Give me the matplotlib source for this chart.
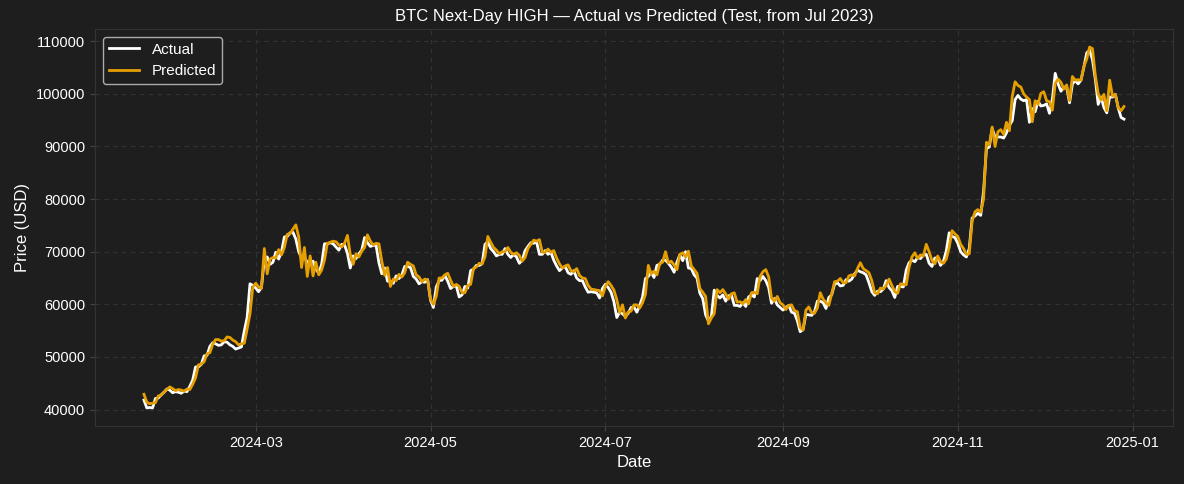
import numpy as np
import pandas as pd
import matplotlib
matplotlib.use("Agg")
import matplotlib.pyplot as plt
import matplotlib.dates as mdates

# Daily next-day HIGH, thousands of USD, 2024-01-22 .. 2024-12-29
actual_jan = [41.8, 40.3, 40.4, 40.3, 42.1, 42.2, 42.8, 43.3, 43.9, 43.7]
actual_feb = [43.2, 43.4, 43.3, 43.1, 43.5, 43.4, 44.4, 45.6, 48.1, 48.1, 48.6, 50.2, 50.3, 52.0, 52.7,
              52.5, 52.2, 52.3, 52.9, 52.8, 52.3, 52.0, 51.5, 51.7, 51.9, 54.9, 57.5, 63.9, 63.6]
actual_mar = [63.1, 62.4, 63.2, 68.5, 69.0, 67.6, 68.0, 69.9, 68.6, 70.0, 72.8, 72.9, 73.6, 73.7, 72.4,
              70.0, 68.8, 68.9, 68.0, 68.0, 68.2, 66.7, 65.9, 67.6, 71.5, 71.5, 71.7, 71.5, 70.9, 70.3, 71.4]
actual_apr = [71.3, 69.7, 66.9, 69.2, 68.7, 69.6, 70.3, 72.7, 71.7, 71.0, 71.2, 71.2, 67.9, 65.8, 66.9,
              64.4, 64.4, 64.0, 65.4, 64.9, 65.6, 67.2, 67.2, 67.0, 65.3, 64.8, 63.9, 64.3, 64.2, 64.7]
actual_may = [60.8, 59.4, 63.3, 64.5, 64.6, 65.5, 64.4, 63.0, 63.4, 63.5, 61.4, 61.8, 63.4, 63.1, 66.4,
              66.7, 67.4, 67.4, 67.7, 71.4, 71.9, 70.6, 70.0, 69.2, 69.5, 69.5, 70.6, 69.5, 68.9, 69.5, 69.0]
actual_jun = [67.8, 68.4, 70.2, 71.0, 71.7, 71.6, 71.9, 69.5, 69.5, 70.2, 69.5, 69.9, 68.4, 67.3, 66.4,
              66.9, 67.2, 66.0, 65.7, 66.4, 65.0, 64.5, 64.5, 63.3, 62.3, 62.4, 62.3, 62.2, 61.2, 63.0]
actual_jul = [63.8, 63.2, 62.3, 60.5, 57.5, 58.5, 58.2, 57.7, 58.3, 59.4, 59.5, 58.5, 59.8, 61.4, 64.9,
              65.3, 66.1, 65.1, 67.4, 67.6, 68.4, 68.4, 67.8, 67.1, 66.1, 68.0, 69.4, 68.3, 70.0, 66.9, 66.8]
actual_aug = [65.6, 65.0, 62.1, 61.1, 58.0, 56.8, 57.7, 62.7, 61.7, 61.2, 61.8, 60.6, 61.6, 61.8, 59.8,
              59.8, 59.6, 60.3, 59.6, 61.4, 61.8, 61.4, 64.9, 64.5, 65.3, 64.5, 63.2, 60.2, 61.1, 59.9, 59.4]
actual_sep = [58.9, 59.4, 59.8, 58.5, 58.3, 56.9, 54.8, 55.2, 58.1, 58.0, 57.9, 58.6, 60.6, 60.6, 60.3,
              59.2, 61.3, 61.8, 63.8, 64.1, 63.5, 63.6, 64.7, 64.4, 64.8, 65.8, 66.5, 66.2, 66.0, 65.6]
actual_oct = [64.1, 62.4, 61.7, 62.5, 62.4, 62.9, 64.5, 63.2, 62.6, 61.3, 63.4, 63.4, 63.3, 66.5, 67.9,
              68.4, 68.1, 68.9, 68.7, 69.4, 69.5, 67.8, 67.2, 68.8, 68.8, 67.4, 68.2, 70.2, 73.6, 72.9, 72.7]
actual_nov = [71.6, 70.0, 69.4, 69.0, 70.6, 76.4, 76.8, 77.3, 76.9, 81.5, 89.6, 89.9, 93.4, 91.8, 91.8,
              91.8, 91.6, 92.6, 94.0, 94.9, 98.9, 99.7, 99.0, 98.7, 98.9, 94.6, 97.2, 96.6, 98.6, 97.7]
actual_dec = [97.8, 98.1, 96.3, 99.0, 103.9, 101.9, 100.5, 101.3, 101.2, 98.3, 101.9, 102.5, 101.9, 102.6, 105.1,
              107.8, 108.3, 106.5, 102.8, 98.0, 99.4, 97.4, 96.4, 99.4, 99.4, 99.9, 97.3, 95.5, 95.2]

pred_jan = [42.9, 41.4, 41.1, 41.2, 41.3, 42.6, 42.7, 43.3, 43.8, 44.3]
pred_feb = [44.0, 43.6, 43.8, 43.7, 43.5, 43.9, 43.8, 44.8, 46.0, 48.5, 48.6, 49.1, 50.6, 50.8, 52.4,
            53.3, 53.3, 53.0, 53.1, 53.8, 53.7, 53.2, 52.9, 52.3, 52.5, 52.6, 55.3, 58.2, 63.3]
pred_mar = [64.0, 63.3, 63.0, 70.6, 65.8, 68.6, 68.9, 68.8, 70.4, 69.4, 70.8, 73.3, 73.4, 74.3, 75.1,
            72.8, 67.0, 70.8, 65.3, 69.2, 65.4, 68.0, 65.6, 66.5, 68.4, 71.6, 71.8, 72.0, 71.9, 71.3, 70.9]
pred_apr = [71.6, 73.1, 69.5, 67.6, 69.6, 69.0, 70.1, 70.8, 73.2, 72.0, 71.3, 71.6, 71.5, 68.2, 65.5,
            67.0, 63.4, 64.8, 64.5, 65.7, 65.2, 66.0, 68.0, 67.6, 67.3, 65.6, 65.2, 64.3, 64.8, 64.6]
pred_may = [61.0, 60.0, 61.5, 65.0, 65.0, 65.6, 65.9, 64.6, 63.4, 63.8, 63.4, 62.2, 62.2, 63.6, 63.8,
            66.8, 67.1, 67.8, 67.7, 69.0, 72.9, 71.8, 70.8, 70.3, 69.6, 70.0, 70.0, 70.8, 69.9, 69.5, 69.8]
pred_jun = [69.3, 68.2, 68.9, 70.6, 71.4, 72.2, 72.0, 72.3, 69.9, 69.9, 70.5, 69.9, 70.2, 68.8, 67.7,
            66.9, 67.3, 67.5, 66.4, 66.2, 66.8, 65.5, 65.0, 64.9, 63.6, 62.9, 62.8, 62.7, 62.6, 61.6]
pred_jul = [63.4, 64.3, 63.6, 62.7, 60.9, 58.4, 59.9, 57.4, 58.6, 58.7, 59.9, 59.9, 59.3, 60.3, 61.9,
            67.4, 65.8, 66.3, 65.6, 67.8, 68.0, 70.0, 67.9, 68.2, 67.5, 66.6, 69.5, 69.8, 69.0, 70.1, 67.3]
pred_aug = [66.6, 65.9, 63.0, 62.3, 61.5, 56.3, 57.4, 58.2, 62.8, 62.2, 62.8, 62.0, 61.0, 62.0, 62.2,
            60.4, 60.5, 60.1, 60.9, 60.1, 62.2, 62.3, 62.0, 65.3, 66.2, 66.6, 65.2, 61.2, 60.6, 61.5, 60.3]
pred_sep = [59.9, 59.0, 59.8, 59.9, 58.8, 58.6, 55.6, 55.1, 58.9, 59.5, 58.4, 58.3, 59.3, 62.2, 61.0,
            60.3, 59.8, 62.0, 64.3, 64.4, 64.9, 64.1, 64.1, 65.4, 65.6, 65.4, 66.8, 67.9, 66.8, 66.4]
pred_oct = [66.0, 64.5, 62.2, 62.0, 63.1, 62.9, 63.6, 64.8, 63.6, 62.4, 62.1, 63.9, 63.8, 63.7, 67.0,
            69.0, 69.8, 68.7, 69.4, 69.2, 71.4, 70.0, 68.3, 67.7, 69.2, 68.1, 67.8, 68.6, 70.8, 74.0, 73.4]
pred_nov = [72.9, 71.4, 70.6, 69.5, 69.6, 75.8, 77.6, 78.0, 77.5, 80.0, 90.8, 90.3, 93.7, 90.0, 92.8,
            93.2, 92.3, 94.6, 93.0, 99.5, 102.3, 101.6, 101.3, 100.0, 99.4, 98.9, 94.7, 98.7, 98.0, 100.1]
pred_dec = [100.4, 98.7, 98.5, 96.9, 102.0, 102.8, 102.2, 100.9, 101.7, 98.7, 103.3, 102.6, 102.7, 102.6, 105.2,
            106.6, 108.9, 108.6, 103.5, 100.0, 98.8, 99.9, 96.8, 102.6, 99.6, 99.9, 97.4, 96.8, 97.6]

actual_k = (actual_jan + actual_feb + actual_mar + actual_apr + actual_may + actual_jun
            + actual_jul + actual_aug + actual_sep + actual_oct + actual_nov + actual_dec)
pred_k = (pred_jan + pred_feb + pred_mar + pred_apr + pred_may + pred_jun
          + pred_jul + pred_aug + pred_sep + pred_oct + pred_nov + pred_dec)

dates = pd.date_range("2024-01-22", "2024-12-29", freq="D")
actual = np.array(actual_k) * 1000
predicted = np.array(pred_k) * 1000

bg = "#1e1e1e"
plt.rcParams["font.family"] = ["Liberation Sans", "DejaVu Sans"]
plt.rcParams["text.color"] = "white"
plt.rcParams["axes.labelcolor"] = "white"
plt.rcParams["xtick.color"] = "white"
plt.rcParams["ytick.color"] = "white"

fig, ax = plt.subplots(figsize=(11.84, 4.84), dpi=100)
fig.patch.set_facecolor(bg)
ax.set_facecolor(bg)

ax.plot(dates, actual, color="white", linewidth=2, label="Actual")
ax.plot(dates, predicted, color="#E69F00", linewidth=2, label="Predicted")

ax.set_title("BTC Next-Day HIGH \u2014 Actual vs Predicted (Test, from Jul 2023)", fontsize=12)
ax.set_xlabel("Date", fontsize=12)
ax.set_ylabel("Price (USD)", fontsize=12)
ax.xaxis.set_major_locator(mdates.MonthLocator(bymonth=[1, 3, 5, 7, 9, 11]))
ax.xaxis.set_major_formatter(mdates.DateFormatter("%Y-%m"))
ax.tick_params(labelsize=10.5, color="#444444")
# subtle dashed grid
ax.grid(True, linestyle=(0, (4, 4)), color="#333333", linewidth=0.8)
for s in ax.spines.values():
    s.set_color("#333333")

leg = ax.legend(loc="upper left", fontsize=11, facecolor=bg, edgecolor="#aaaaaa", framealpha=1)
for t in leg.get_texts():
    t.set_color("white")

fig.subplots_adjust(left=0.0802, right=0.9907, top=0.9401, bottom=0.1198)
fig.savefig("out.png", dpi=100, facecolor=bg)
